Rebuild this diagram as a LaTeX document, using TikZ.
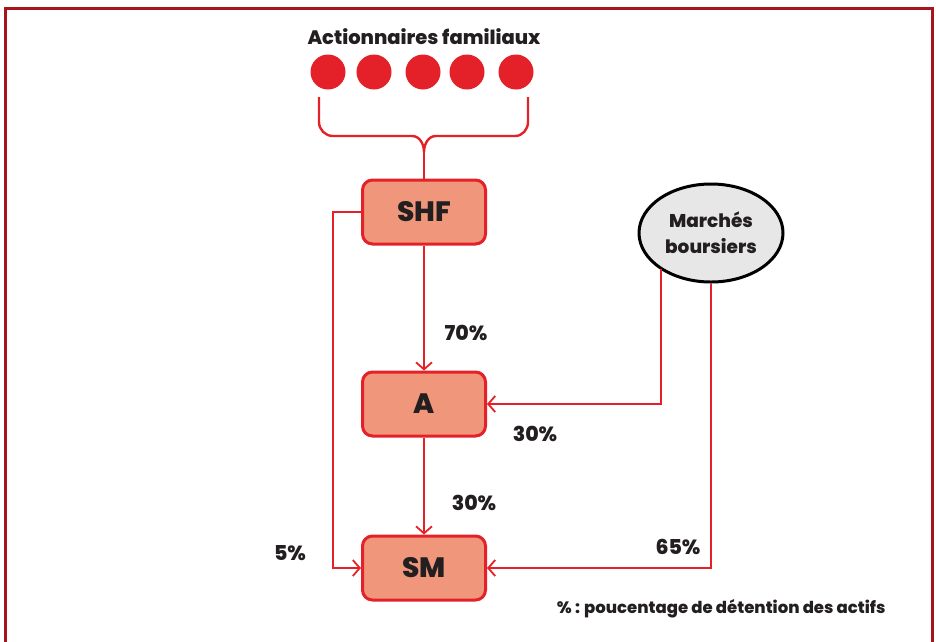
\documentclass[tikz,border=0pt]{standalone}
\usepackage{fontspec}
\setmainfont{Poppins}[BoldFont={Poppins ExtraBold}]
\usetikzlibrary{shapes.geometric,arrows.meta}
\definecolor{rouge}{HTML}{E42128}
\definecolor{saumon}{HTML}{F0977B}
\definecolor{bordeaux}{HTML}{A8141B}
\definecolor{gris}{HTML}{E7E7E8}
\definecolor{encre}{HTML}{231F20}
\begin{document}
\begin{tikzpicture}
    [x=1pt,y=-1pt,font=\bfseries,text=encre,
     boite/.style={draw=rouge,fill=saumon,line width=3pt,rounded corners=10pt,
                   minimum width=123pt,minimum height=64pt,font=\bfseries\fontsize{28}{30}\selectfont},
     marche/.style={ellipse,draw=black,fill=gris,line width=3pt,minimum width=144pt,
                    minimum height=98pt,align=center,font=\bfseries\fontsize{18.5}{26}\selectfont},
     point/.style={circle,fill=rouge,minimum size=35pt,inner sep=0pt},
     taux/.style={font=\bfseries\fontsize{20.5}{22}\selectfont},
     lien/.style={draw=rouge,line width=1.6pt,-{Straight Barb[length=7pt,width=16pt,line width=1.8pt]}}]
    \useasboundingbox (0,0) rectangle (936,641);
    \draw[bordeaux,line width=3pt] (5,645) -- (5,8) -- (932,8) -- (932,645);
    % actionnaires
    \node (titre) at (424,37) {\fontsize{19.5}{22}\selectfont Actionnaires familiaux};
    \foreach \i/\x in {1/328,2/374,3/423,4/467,5/516}
        \node[point] (d\i) at (\x,72) {};
    \node[boite] (shf) at (424,212) {SHF};
    \node[boite] (a)   at (424,404) {A};
    \node[boite] (sm)  at (424,568) {SM};
    \node[marche] (mb) at (711,233) {Marchés\\boursiers};
    % accolade
    \draw[rouge,line width=2.4pt] (319,97) -- (319,122) to[out=-90,in=180] (333,136) -- (412,136)
        to[out=0,in=90] (424,152) to[out=90,in=180] (436,136) -- (515,136)
        to[out=0,in=-90] (528,122) -- (528,97);
    \draw[rouge,line width=2.4pt] (424,152) -- (shf.north);
    % participations
    \coordinate (m1) at (661,269);
    \draw[lien] (shf) -- (a);
    \draw[lien] (a) -- (sm);
    \draw[lien] (shf.west) -- ++(-28,0) |- (sm.west);
    \draw[lien] (m1) |- (a.east);
    \draw[lien] (mb.south) |- (sm.east);
    \node[taux] (t1) at (466,333) {70\%};
    \node[taux] (t2) at (535,434) {30\%};
    \node[taux] (t3) at (474,503) {30\%};
    \node[taux] (t4) at (290,553) {5\%};
    \node[taux] (t5) at (678,547) {65\%};
    \node[anchor=east] (note) at (889,609) {\fontsize{16.5}{18}\selectfont \% : poucentage de détention des actifs};
\end{tikzpicture}
\end{document}
